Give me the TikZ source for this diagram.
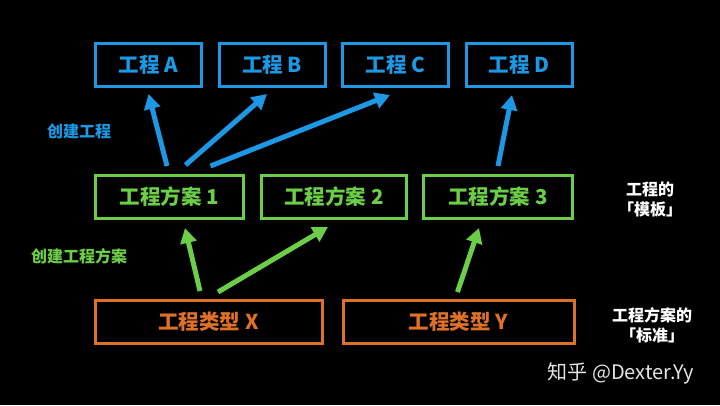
\documentclass[tikz,border=0pt]{standalone}
\usepackage{fontspec}
\setmainfont{Noto Sans CJK SC}
\usetikzlibrary{arrows.meta}

\definecolor{projblue}{RGB}{28,152,228}
\definecolor{planGreen}{RGB}{108,206,72}
\definecolor{typeorange}{RGB}{222,112,40}

\begin{document}
\begin{tikzpicture}[x=1pt,y=-1pt,
  box/.style={draw,line width=3pt,minimum height=43pt,inner sep=0pt,
    font=\fontsize{20.5}{24}\selectfont\bfseries},
  proj/.style={box,projblue,text=projblue,minimum width=106pt},
  plan/.style={box,planGreen,text=planGreen},
  kind/.style={box,typeorange,text=typeorange},
  barrow/.style={projblue,line width=5pt,-{Triangle[length=15pt,width=16pt]}},
  garrow/.style={planGreen,line width=5pt,-{Triangle[length=15pt,width=16pt]}},
  note/.style={font=\fontsize{16}{20}\selectfont\bfseries}]

% Background
\fill[black] (0,0) rectangle (720,405);

% Top row: projects
\node[proj] (a) at (148.5,65) {工程 A};
\node[proj] (b) at (272,65) {工程 B};
\node[proj] (c) at (395.5,65) {工程 C};
\node[proj] (d) at (519,65) {工程 D};

% Middle row: project plans
\node[plan,minimum width=148pt] (p1) at (169.5,197) {工程方案 1};
\node[plan,minimum width=145pt] (p2) at (334,197) {工程方案 2};
\node[plan,minimum width=149pt] (p3) at (498,197) {工程方案 3};

% Bottom row: project types
\node[kind,minimum width=227pt] (x) at (208.5,322) {工程类型 X};
\node[kind,minimum width=231pt] (y) at (458.5,322) {工程类型 Y};

% Blue arrows (plan -> project)
\draw[barrow] ([xshift=-2.5pt,yshift=8pt]p1.north) -- ([xshift=0pt,yshift=-6pt]a.south);
\draw[barrow] ([xshift=16pt,yshift=9pt]p1.north) -- ([xshift=-5pt,yshift=-6pt]b.south);
\draw[barrow] ([xshift=41pt,yshift=8pt]p1.north) -- ([xshift=-5.5pt,yshift=-7pt]c.south);
\draw[barrow] ([xshift=0pt,yshift=8pt]p3.north) -- ([xshift=-7pt,yshift=-7pt]d.south);

% Green arrows (type -> plan)
\draw[garrow] ([xshift=-8.5pt,yshift=8pt]x.north) -- ([xshift=15.5pt,yshift=-8pt]p1.south);
\draw[garrow] ([xshift=9.5pt,yshift=7pt]x.north) -- ([xshift=-6pt,yshift=-7pt]p2.south);
\draw[garrow] ([xshift=-1pt,yshift=7pt]y.north) -- ([xshift=-19pt,yshift=-8pt]p3.south);

% Side labels
\node[note,projblue] (mkproj) at (79,131) {创建工程};
\node[note,planGreen] (mkplan) at (79,256) {创建工程方案};
\node[note,white,align=center] (tmpl) at (650,199) {工程的\\「模板」};
\node[note,white,align=center] (std) at (652,325) {工程方案的\\「标准」};

% Watermark
\node[white!90!black,font=\fontsize{20}{24}\selectfont] (mark) at (621,373) {知乎 @Dexter.Yy};

\end{tikzpicture}
\end{document}
